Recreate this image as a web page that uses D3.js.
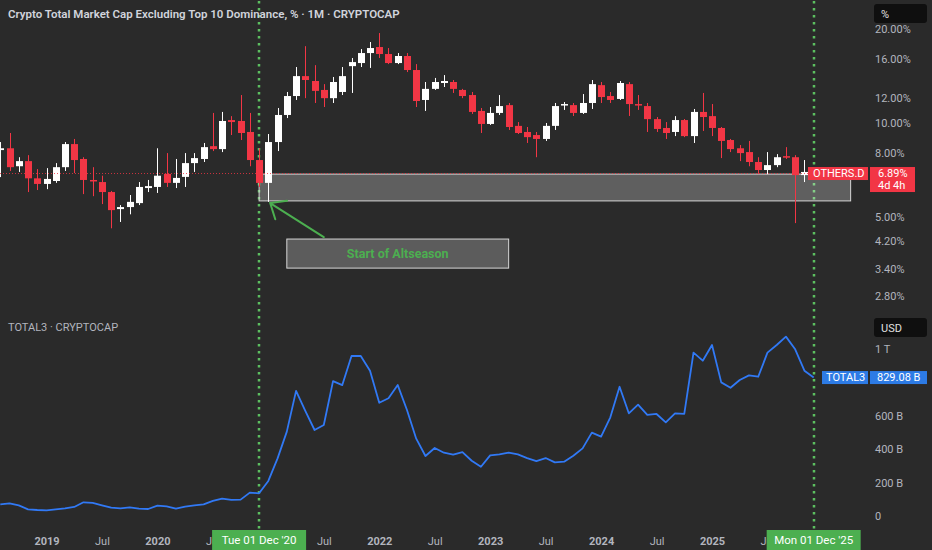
<!DOCTYPE html>
<html>
<head>
<meta charset="utf-8">
<script src="https://cdn.jsdelivr.net/npm/d3@7"></script>
<style>
  html, body { margin: 0; background: #2a2a2a; }
  svg { display: block; font-family: Roboto, "Open Sans", sans-serif; }
</style>
</head>
<body>
<svg id="chart"></svg>
<script>
// Monthly bars, Aug 2018 .. Dec 2025
const months = d3.timeMonth.range(new Date(2018, 7, 1), new Date(2026, 0, 1));

// OTHERS.D (%)
const open = [8.19, 8.30, 7.27, 7.55, 6.65, 6.38, 6.52, 7.22, 8.56, 7.67, 6.57, 6.47, 6.01, 5.30, 5.38, 5.54, 6.19,
  6.24, 6.87, 6.43, 6.72, 7.44, 7.67, 8.43, 8.25, 10.22, 10.15, 9.36, 7.61,
  6.43, 8.69, 10.61, 12.20, 14.13, 13.63, 12.76, 12.01, 12.57, 15.21, 15.56, 16.75,
  17.51, 16.63, 15.56, 16.39, 14.78, 11.85, 12.86, 13.43, 13.53, 12.76, 12.29, 10.93,
  9.93, 10.77, 11.41, 9.79, 9.36, 9.15, 8.89, 9.79, 11.41, 11.41, 10.77, 11.59,
  13.22, 12.20, 11.94, 13.32, 11.50, 11.33, 10.29, 9.64, 9.36, 10.22, 9.08, 10.85,
  10.52, 9.64, 8.82, 8.30, 8.07, 7.50, 7.07, 7.33, 7.83, 7.77, 6.81, 6.97];
const high = [8.69, 9.29, 7.77, 7.89, 7.12, 7.17, 7.44, 8.69, 8.89, 7.77, 7.22, 6.78, 6.06, 5.46, 5.88, 6.47, 6.57,
  8.30, 8.01, 7.67, 8.01, 8.01, 8.63, 10.77, 10.85, 10.52, 12.29, 10.77, 8.30,
  9.22, 11.17, 12.57, 15.11, 17.62, 15.32, 13.32, 14.04, 15.11, 16.15, 17.25, 18.17,
  19.41, 17.38, 16.75, 16.75, 15.44, 13.53, 13.94, 14.24, 13.73, 12.86, 12.57, 11.17,
  11.25, 12.29, 11.59, 10.07, 9.71, 9.36, 10.00, 11.59, 11.67, 11.59, 12.38, 13.73,
  13.53, 12.57, 13.63, 13.53, 12.29, 11.59, 10.45, 10.07, 10.52, 10.30, 11.09, 12.48,
  11.50, 9.71, 8.89, 8.50, 8.76, 7.77, 8.07, 7.95, 8.37, 7.89, 7.61, 7.05];
const low = [6.71, 7.02, 6.97, 6.01, 6.10, 6.14, 6.43, 7.02, 6.91, 5.92, 5.83, 5.50, 4.60, 4.82, 5.10, 5.46, 6.01,
  5.97, 6.24, 6.19, 6.24, 6.97, 7.50, 8.13, 8.07, 9.15, 8.82, 7.27, 6.24,
  5.59, 8.13, 10.37, 11.85, 12.01, 11.59, 11.25, 11.59, 12.29, 12.48, 15.11, 15.01,
  16.15, 15.44, 15.44, 14.56, 11.25, 10.93, 12.76, 13.04, 12.48, 12.01, 10.69, 9.29,
  9.86, 10.61, 9.50, 9.22, 8.63, 7.77, 8.76, 9.50, 11.01, 10.53, 10.69, 11.09,
  11.59, 11.59, 11.85, 10.53, 11.01, 9.36, 9.36, 8.89, 9.08, 9.01, 8.63, 9.43,
  9.08, 7.72, 8.07, 7.55, 7.27, 6.86, 6.86, 7.22, 7.67, 4.78, 6.47, 6.80];
const close = [8.30, 7.22, 7.55, 6.65, 6.38, 6.62, 7.22, 8.56, 7.61, 6.57, 6.52, 6.01, 5.26, 5.38, 5.59, 6.24, 6.28,
  6.78, 6.43, 6.67, 7.44, 7.72, 8.37, 8.25, 10.15, 10.07, 9.29, 7.61, 6.43,
  8.69, 10.61, 12.20, 14.13, 13.73, 12.67, 12.01, 13.53, 14.13, 15.67, 16.75, 17.38,
  16.63, 15.56, 16.39, 14.78, 11.76, 12.86, 13.53, 13.63, 12.86, 12.20, 10.85, 9.93,
  10.77, 11.33, 9.71, 9.29, 9.01, 8.89, 9.79, 11.33, 11.50, 10.77, 11.59, 13.32,
  12.11, 11.85, 13.43, 11.50, 11.41, 10.29, 9.57, 9.29, 10.22, 9.08, 10.85, 10.45,
  9.64, 8.76, 8.25, 8.01, 7.50, 7.07, 7.33, 7.77, 7.77, 6.81, 6.97, 6.89];

// TOTAL3 (billion USD)
const total3 = [70, 76, 64, 40, 36, 34, 40, 46, 54, 82, 78, 64, 50, 46, 52, 44, 42,
  62, 58, 44, 56, 64, 70, 90, 104, 96, 98, 140, 136,
  210, 345, 505, 749, 629, 515, 545, 808, 784, 958, 958, 870,
  678, 705, 784, 635, 463, 359, 407, 379, 367, 383, 331, 295,
  363, 369, 379, 369, 347, 329, 347, 321, 325, 361, 405, 499,
  475, 591, 774, 615, 667, 605, 611, 561, 615, 611, 978, 930,
  1024, 800, 768, 814, 842, 834, 978, 1024, 1074, 998, 870, 829.08];

// Axis ticks
const pctTicks = [20, 16, 12, 10, 8, 5, 4.2, 3.4, 2.8];
const usdTicks = [0, 200, 400, 600, 1000];

// Drawn annotations (month index / % values)
const zone = { start: 28, end: 92, top: 6.86, bottom: 5.63 };
const note = { text: "Start of Altseason", start: 31, end: 55, top: 4.25, bottom: 3.43 };
const arrow = { from: [35, 4.31], to: [29.2, 5.54] };
const markers = [
  { idx: 28, label: "Tue 01 Dec '20" },
  { idx: 88, label: "Mon 01 Dec '25" },
];

const width = 932;
const height = 550;
const plotRight = 868;
const topPaneBottom = 308;
const bg = "#2a2a2a";
const upColor = "#ffffff";
const downColor = "#f23645";
const lineColor = "#3179f5";
const green = "#4caf50";
const textColor = "#b2b5be";

const svg = d3.select("#chart")
  .attr("width", width)
  .attr("height", height)
  .attr("viewBox", [0, 0, width, height]);

svg.append("rect").attr("width", width).attr("height", height).attr("fill", bg);

// Scales (Jan 2019 = index 5, Jan 2025 = index 77)
const x = d3.scaleLinear().domain([5, 77]).range([46.5, 712]);
const yTop = d3.scaleLog().domain([10, 20]).range([123, 29]);
const yBot = d3.scaleLinear().domain([0, 1000]).range([516, 349]);

svg.append("clipPath").attr("id", "clipTop")
  .append("rect").attr("width", plotRight).attr("height", topPaneBottom);

// Vertical dotted markers
svg.append("g")
  .selectAll("line")
  .data(markers)
  .join("line")
  .attr("x1", (d) => Math.round(x(d.idx)))
  .attr("x2", (d) => Math.round(x(d.idx)))
  .attr("y1", 1)
  .attr("y2", 530)
  .attr("stroke", "#5cbf60")
  .attr("stroke-width", 2.5)
  .attr("stroke-dasharray", "2.5,4.5");

const topPane = svg.append("g").attr("clip-path", "url(#clipTop)");

// Gray zone box
topPane.append("rect")
  .attr("x", x(zone.start))
  .attr("y", yTop(zone.top))
  .attr("width", x(zone.end) - x(zone.start))
  .attr("height", yTop(zone.bottom) - yTop(zone.top))
  .attr("fill", "rgba(255,255,255,0.25)")
  .attr("stroke", "#d6d6d6")
  .attr("stroke-width", 1);

// Candles
const candles = months.map((m, i) => ({ m, i, o: open[i], h: high[i], l: low[i], c: close[i] }));
const cg = topPane.append("g")
  .selectAll("g")
  .data(candles)
  .join("g")
  .attr("fill", (d) => (d.c >= d.o ? upColor : downColor))
  .attr("stroke", (d) => (d.c >= d.o ? upColor : downColor));

cg.append("line")
  .attr("x1", (d) => Math.round(x(d.i)) + 0.5)
  .attr("x2", (d) => Math.round(x(d.i)) + 0.5)
  .attr("y1", (d) => yTop(d.h))
  .attr("y2", (d) => yTop(d.l))
  .attr("stroke-width", 1);

cg.append("rect")
  .attr("x", (d) => Math.round(x(d.i)) - 3)
  .attr("y", (d) => yTop(Math.max(d.o, d.c)))
  .attr("width", 7)
  .attr("height", (d) => Math.max(1.5, Math.abs(yTop(d.o) - yTop(d.c))))
  .attr("stroke", "none");

// Last price line
const last = close[close.length - 1];
topPane.append("line")
  .attr("x1", 0)
  .attr("x2", 808)
  .attr("y1", yTop(last))
  .attr("y2", yTop(last))
  .attr("stroke", downColor)
  .attr("stroke-width", 1)
  .attr("stroke-dasharray", "1,2")
  .attr("opacity", 0.8);

// Annotation: text box + arrow
topPane.append("rect")
  .attr("x", x(note.start))
  .attr("y", yTop(note.top))
  .attr("width", x(note.end) - x(note.start))
  .attr("height", yTop(note.bottom) - yTop(note.top))
  .attr("fill", "#5c5c5c")
  .attr("stroke", "#d6d6d6")
  .attr("stroke-width", 1);

topPane.append("text")
  .attr("x", (x(note.start) + x(note.end)) / 2)
  .attr("y", (yTop(note.top) + yTop(note.bottom)) / 2)
  .attr("dy", "0.35em")
  .attr("text-anchor", "middle")
  .attr("fill", green)
  .attr("font-size", 12.5)
  .attr("font-weight", 700)
  .text(note.text);

const [ax0, ay0] = [x(arrow.from[0]), yTop(arrow.from[1])];
const [ax1, ay1] = [x(arrow.to[0]), yTop(arrow.to[1])];
const ang = Math.atan2(ay0 - ay1, ax0 - ax1);
const head = 17;
const headPath = d3.path();
headPath.moveTo(ax1 + head * Math.cos(ang - 0.7), ay1 + head * Math.sin(ang - 0.7));
headPath.lineTo(ax1, ay1);
headPath.lineTo(ax1 + head * Math.cos(ang + 0.7), ay1 + head * Math.sin(ang + 0.7));
headPath.moveTo(ax1, ay1);
headPath.lineTo(ax0, ay0);
topPane.append("path")
  .attr("d", headPath.toString())
  .attr("fill", "none")
  .attr("stroke", green)
  .attr("stroke-width", 2)
  .attr("stroke-linecap", "round");

// TOTAL3 line
svg.append("path")
  .datum(total3)
  .attr("fill", "none")
  .attr("stroke", lineColor)
  .attr("stroke-width", 1.8)
  .attr("stroke-linejoin", "round")
  .attr("d", d3.line().x((d, i) => x(i)).y((d) => yBot(d)));

// Titles
svg.append("text")
  .attr("x", 8).attr("y", 18)
  .attr("fill", "#d1d4dc")
  .attr("font-size", 11.5)
  .attr("font-weight", 600)
  .text("Crypto Total Market Cap Excluding Top 10 Dominance, % · 1M · CRYPTOCAP");

svg.append("text")
  .attr("x", 8).attr("y", 331)
  .attr("fill", textColor)
  .attr("font-size", 11)
  .text("TOTAL3 · CRYPTOCAP");

// Right axes
svg.append("g")
  .attr("transform", `translate(${plotRight + 4},0)`)
  .call(d3.axisRight(yTop).tickValues(pctTicks).tickFormat((d) => d.toFixed(2) + "%").tickSize(0))
  .call((g) => g.select(".domain").remove())
  .call((g) => g.selectAll("text").attr("fill", textColor).attr("font-size", 11).attr("font-family", "Roboto"));

svg.append("g")
  .attr("transform", `translate(${plotRight + 4},0)`)
  .call(d3.axisRight(yBot).tickValues(usdTicks)
    .tickFormat((d) => (d === 0 ? "0" : d >= 1000 ? d / 1000 + " T" : d + " B")).tickSize(0))
  .call((g) => g.select(".domain").remove())
  .call((g) => g.selectAll("text").attr("fill", textColor).attr("font-size", 11).attr("font-family", "Roboto"));

// Unit boxes
[["%", 4], ["USD", 318]].forEach(([t, y0]) => {
  svg.append("rect").attr("x", 874).attr("y", y0).attr("width", 53).attr("height", 19)
    .attr("rx", 3).attr("fill", "#0f0f0f");
  svg.append("text").attr("x", 881).attr("y", y0 + 13.5).attr("fill", "#e0e0e0")
    .attr("font-size", 11).text(t);
});

// Bottom time axis (labels fully under a marker date label are skipped)
const tickIdx = d3.range(months.length)
  .filter((i) => [0, 6].includes(months[i].getMonth()))
  .filter((i) => markers.every((m) => Math.abs(x(i) - x(m.idx)) > 30));
svg.append("g")
  .attr("transform", "translate(0,534)")
  .call(d3.axisBottom(x).tickValues(tickIdx).tickSize(0)
    .tickFormat((i) => (months[i].getMonth() === 0 ? months[i].getFullYear() : "Jul")))
  .call((g) => g.select(".domain").remove())
  .call((g) => g.selectAll("text")
    .attr("fill", textColor)
    .attr("font-size", 11)
    .attr("font-family", "Roboto")
    .attr("font-weight", (i) => (months[i].getMonth() === 0 ? 700 : 400)));

// Marker date labels
const ml = svg.append("g").selectAll("g").data(markers).join("g")
  .attr("transform", (d) => `translate(${x(d.idx)},540)`);
ml.append("rect").attr("x", -47).attr("y", -10).attr("width", 94).attr("height", 20).attr("fill", green);
ml.append("text").attr("text-anchor", "middle").attr("dy", "0.35em")
  .attr("fill", "#ffffff").attr("font-size", 11.5).text((d) => d.label);

// Price labels
const py = yTop(last);
svg.append("rect").attr("x", 808).attr("y", py - 6.5).attr("width", 60).attr("height", 13).attr("fill", downColor);
svg.append("text").attr("x", 813).attr("y", py).attr("dy", "0.35em").attr("fill", "#fff")
  .attr("font-size", 11).text("OTHERS.D");
svg.append("rect").attr("x", 870).attr("y", py - 6.5).attr("width", 45).attr("height", 25).attr("fill", downColor);
svg.append("text").attr("x", 878).attr("y", py).attr("dy", "0.35em").attr("fill", "#fff")
  .attr("font-size", 11).text(last.toFixed(2) + "%");
svg.append("text").attr("x", 878).attr("y", py + 12).attr("dy", "0.35em").attr("fill", "#fff")
  .attr("font-size", 11).text("4d 4h");

const lastT = total3[total3.length - 1];
const ty = yBot(lastT);
svg.append("rect").attr("x", 822).attr("y", ty - 6.5).attr("width", 46).attr("height", 13).attr("fill", "#2d7be5");
svg.append("text").attr("x", 826).attr("y", ty).attr("dy", "0.35em").attr("fill", "#fff")
  .attr("font-size", 11).text("TOTAL3");
svg.append("rect").attr("x", 870).attr("y", ty - 6.5).attr("width", 57).attr("height", 13).attr("fill", "#2d7be5");
svg.append("text").attr("x", 877).attr("y", ty).attr("dy", "0.35em").attr("fill", "#fff")
  .attr("font-size", 11).text(lastT.toFixed(2) + " B");
</script>
</body>
</html>
